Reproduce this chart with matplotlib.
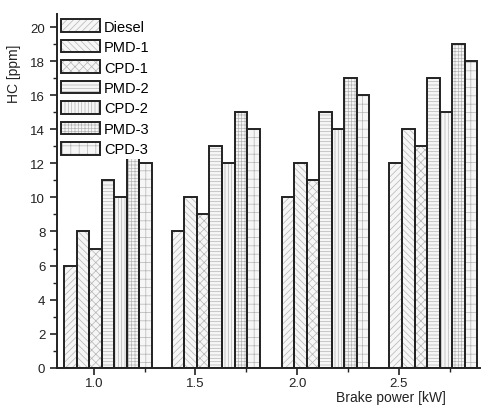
import numpy as np
import matplotlib.pyplot as plt
from matplotlib.patches import Patch
from matplotlib.legend_handler import HandlerTuple
from matplotlib.ticker import MultipleLocator

plt.rcParams['font.family'] = ['Liberation Sans', 'DejaVu Sans']
plt.rcParams['hatch.linewidth'] = 0.5
plt.rcParams['hatch.color'] = '#b4b4b4'

# Data
brake_power = [1.07, 1.60, 2.14, 2.67]
series = ['Diesel', 'PMD-1', 'CPD-1', 'PMD-2', 'CPD-2', 'PMD-3', 'CPD-3']
hc = {
    'Diesel': [6, 8, 10, 12],
    'PMD-1': [8, 10, 12, 14],
    'CPD-1': [7, 9, 11, 13],
    'PMD-2': [11, 13, 15, 17],
    'CPD-2': [10, 12, 14, 15],
    'PMD-3': [13, 15, 17, 19],
    'CPD-3': [12, 14, 16, 18],
}
hatches = ['/////', '\\\\\\\\\\', 'xxxx', '-----', '|||||', '+++++', '++']

fig = plt.figure(figsize=(4.84, 4.06), dpi=100)
ax = fig.add_axes([0.118, 0.092, 0.874, 0.872])

width = 0.0617
hatch_col = '#b4b4b4'
x = np.array(brake_power)
handles = []
for i, name in enumerate(series):
    pos = x + (i - 3) * width
    ax.bar(pos, hc[name], width, color='#f6f6f6', hatch=hatches[i],
           edgecolor=hatch_col, linewidth=0, zorder=2)
    ax.bar(pos, hc[name], width, fill=False, edgecolor='#222222',
           linewidth=1.4, zorder=3)
    h1 = Patch(facecolor='#f6f6f6', hatch=hatches[i], edgecolor=hatch_col, linewidth=0)
    h2 = Patch(fill=False, edgecolor='#222222', linewidth=1.4)
    handles.append((h1, h2))

ax.set_xlim(0.82, 2.9)
ax.set_ylim(0, 20.8)
ax.xaxis.set_major_locator(MultipleLocator(0.5))
ax.xaxis.set_minor_locator(MultipleLocator(0.25))
ax.yaxis.set_major_locator(MultipleLocator(2))
ax.yaxis.set_minor_locator(MultipleLocator(1))
ax.xaxis.set_major_formatter(plt.FormatStrFormatter('%.1f'))

for s in ['top', 'right']:
    ax.spines[s].set_visible(False)
for s in ['left', 'bottom']:
    ax.spines[s].set_linewidth(1.4)
    ax.spines[s].set_color('#222222')
ax.tick_params(which='major', direction='out', length=5, width=1.2,
               labelsize=9.5, colors='#222222')
ax.tick_params(axis='x', which='major', pad=1.5)
ax.tick_params(which='minor', direction='out', length=3, width=1.0, colors='#222222')

ax.set_ylabel('HC [ppm]', fontsize=10, color='#222222')
ax.yaxis.set_label_coords(-0.085, 0.834)
ax.set_xlabel('Brake power [kW]', fontsize=10, color='#222222')
ax.xaxis.set_label_coords(0.79, -0.062)

leg = ax.legend(handles, series, handler_map={tuple: HandlerTuple(ndivide=1)},
                loc='upper left', bbox_to_anchor=(-0.005, 1.0),
                fontsize=10.5, handlelength=2.7, handleheight=0.95,
                labelspacing=0.42, handletextpad=0.25, borderpad=0.2,
                borderaxespad=0.2, frameon=True, fancybox=False)
leg.get_frame().set_facecolor('white')
leg.get_frame().set_edgecolor('none')
leg.get_frame().set_alpha(1)
leg.set_zorder(5)

fig.savefig('out.png', dpi=100)
